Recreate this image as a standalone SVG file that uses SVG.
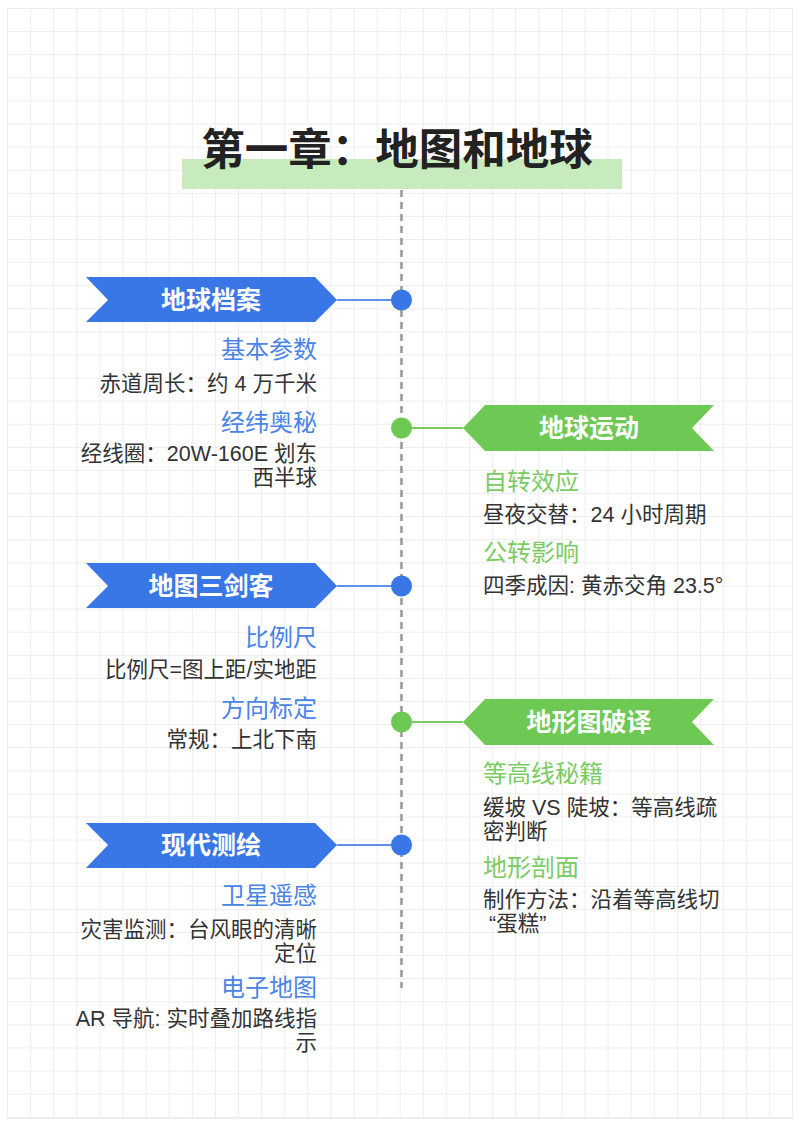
<svg xmlns="http://www.w3.org/2000/svg" width="800" height="1130" viewBox="0 0 800 1130">
<defs>
<pattern id="grid" x="7" y="8" width="23.1" height="23.1" patternUnits="userSpaceOnUse">
<path d="M0 0.5H23.1M0.5 0V23.1" fill="none" stroke="#ededed" stroke-width="1"/>
</pattern>
<style>
text{font-family:"Liberation Sans","Noto Sans CJK SC",sans-serif}
.title{font-size:43.5px;font-weight:700;fill:#222;text-anchor:middle}
.ban{font-size:25px;font-weight:700;fill:#fff;text-anchor:middle}
.bb{fill:#3a77e6}
.gb{fill:#6ec954}
.shb{font-size:24px;fill:#4a84e6}
.shg{font-size:24px;fill:#7bcb62}
.body{font-size:21.5px;fill:#333}
.r{text-anchor:end}
.bl{stroke:#5f90ee;stroke-width:2}
.gl{stroke:#7bcb62;stroke-width:2}
</style>
</defs>
<rect x="0" y="0" width="800" height="1130" fill="#fff"/>
<rect x="7" y="8" width="786" height="1111" fill="url(#grid)"/>
<path d="M7 1118.5H793M792.5 8V1119" stroke="#ededed" stroke-width="1" fill="none"/>

<g id="title">
<rect x="182" y="159" width="440" height="30" fill="#c8ebbd"/>
<text class="title" x="397" y="165">第一章：地图和地球</text>
</g>

<g id="connectors">
<line x1="401.5" y1="190" x2="401.5" y2="988" stroke="#999" stroke-width="2.5" stroke-dasharray="7 5"/>
<line class="bl" x1="337" y1="300" x2="401" y2="300"/>
<line class="gl" x1="402" y1="428" x2="463" y2="428"/>
<line class="bl" x1="337" y1="586" x2="401" y2="586"/>
<line class="gl" x1="402" y1="722" x2="463" y2="722"/>
<line class="bl" x1="337" y1="845" x2="401" y2="845"/>
<circle cx="401.5" cy="300" r="10.5" fill="#3a77e6"/>
<circle cx="401.5" cy="428" r="10.5" fill="#6ec954"/>
<circle cx="401.5" cy="586" r="10.5" fill="#3a77e6"/>
<circle cx="401.5" cy="722" r="10.5" fill="#6ec954"/>
<circle cx="401.5" cy="845" r="10.5" fill="#3a77e6"/>
</g>

<g id="node-earth-profile">
<polygon class="bb" points="86,277 315,277 337,300 315,322 86,322 108,300"/>
<text class="ban" x="211" y="309">地球档案</text>
<text class="shb r" x="317" y="358">基本参数</text>
<text class="body r" x="317" y="391">赤道周长：约 4 万千米</text>
<text class="shb r" x="317" y="431">经纬奥秘</text>
<text class="body r" x="317" y="461">经线圈：20W-160E 划东</text>
<text class="body r" x="317" y="485">西半球</text>
</g>

<g id="node-earth-motion">
<polygon class="gb" points="463,428 485,405 714,405 692,428 714,451 485,451"/>
<text class="ban" x="589" y="437">地球运动</text>
<text class="shg" x="483" y="490">自转效应</text>
<text class="body" x="483" y="522">昼夜交替：24 小时周期</text>
<text class="shg" x="483" y="561">公转影响</text>
<text class="body" x="483" y="593">四季成因: 黄赤交角 23.5°</text>
</g>

<g id="node-map-three">
<polygon class="bb" points="86,563 315,563 337,586 315,608 86,608 108,586"/>
<text class="ban" x="211" y="595">地图三剑客</text>
<text class="shb r" x="317" y="646">比例尺</text>
<text class="body r" x="317" y="677">比例尺=图上距/实地距</text>
<text class="shb r" x="317" y="717">方向标定</text>
<text class="body r" x="317" y="747">常规：上北下南</text>
</g>

<g id="node-topo">
<polygon class="gb" points="463,722 485,699 714,699 692,722 714,745 485,745"/>
<text class="ban" x="589" y="731">地形图破译</text>
<text class="shg" x="483" y="782">等高线秘籍</text>
<text class="body" x="483" y="815">缓坡 VS 陡坡：等高线疏</text>
<text class="body" x="483" y="839">密判断</text>
<text class="shg" x="483" y="876">地形剖面</text>
<text class="body" x="483" y="907">制作方法：沿着等高线切</text>
<text class="body" x="489" y="931">“蛋糕”</text>
</g>

<g id="node-modern">
<polygon class="bb" points="86,823 315,823 337,845 315,868 86,868 108,845"/>
<text class="ban" x="211" y="854">现代测绘</text>
<text class="shb r" x="317" y="904">卫星遥感</text>
<text class="body r" x="317" y="937">灾害监测：台风眼的清晰</text>
<text class="body r" x="317" y="961">定位</text>
<text class="shb r" x="317" y="996">电子地图</text>
<text class="body r" x="317" y="1026">AR 导航: 实时叠加路线指</text>
<text class="body r" x="317" y="1050">示</text>
</g>
</svg>
